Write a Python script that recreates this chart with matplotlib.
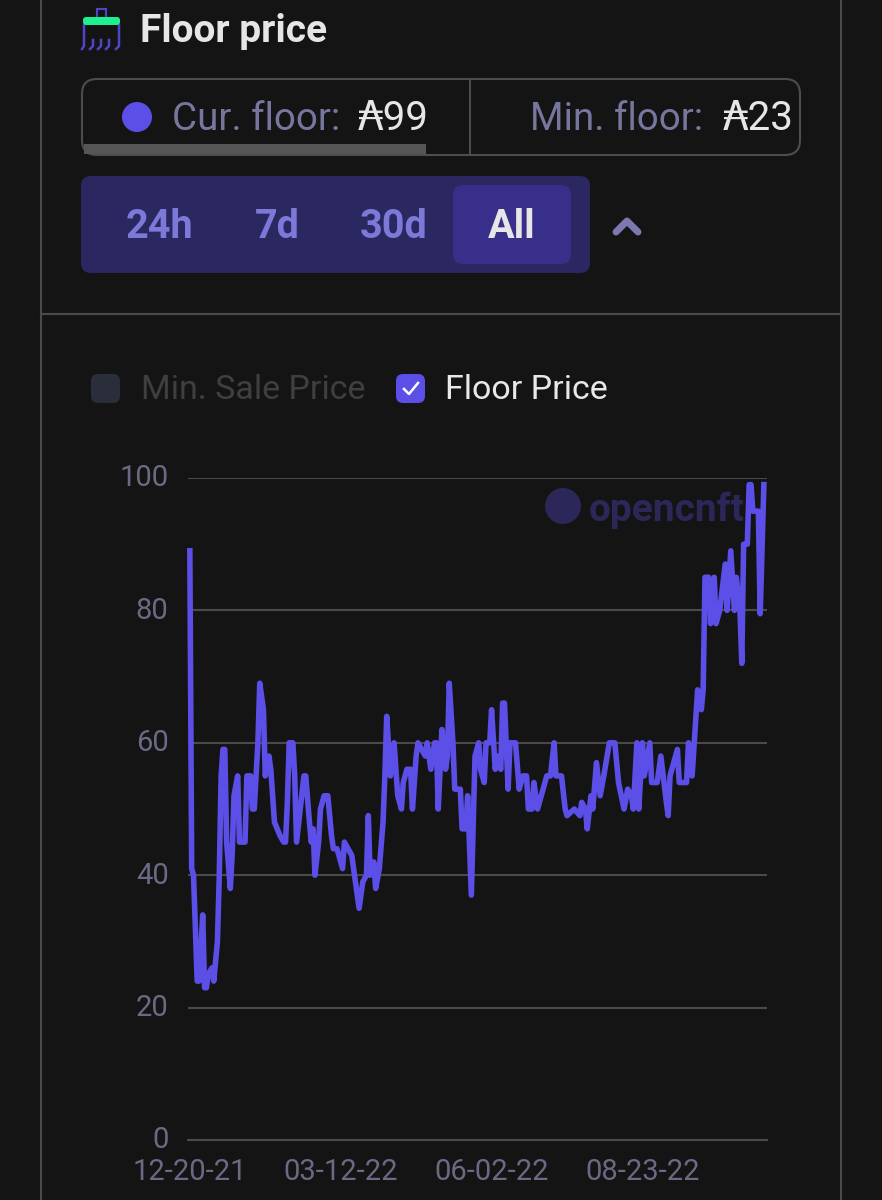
import matplotlib
matplotlib.use("Agg")
import matplotlib.pyplot as plt
from matplotlib.patches import Circle, FancyBboxPatch, Rectangle
from matplotlib.transforms import ScaledTranslation

# Days since 12-20-21 and floor price
days = [0, 1, 2, 4, 5, 7, 8, 9, 10, 12, 13, 15, 16, 17, 18, 19, 20, 22, 23, 24, 26, 27, 28, 30, 31, 33, 34,
        35, 37, 38, 39, 40, 41, 43, 44, 46, 49, 51, 52, 53, 54, 56, 57, 58, 60, 62, 63, 65, 66, 67, 68, 70,
        71, 73, 75, 77, 78, 80, 83, 84, 86, 88, 90, 92, 94, 96, 97, 98, 100, 101, 103, 105, 106, 107, 109,
        111, 113, 115, 116, 118, 120, 121, 123, 124, 126, 128, 129, 131, 133, 134, 135, 137, 139, 140, 141,
        143, 144, 147, 148, 150, 151, 153, 155, 157, 158, 160, 161, 163, 164, 166, 167, 169, 170, 171, 173,
        174, 177, 179, 181, 183, 184, 186, 187, 189, 191, 194, 196, 198, 199, 202, 204, 205, 209, 212, 213,
        215, 216, 218, 219, 221, 223, 225, 228, 231, 233, 236, 238, 240, 241, 243, 244, 246, 247, 250, 251,
        254, 256, 259, 260, 261, 265, 266, 270, 271, 273, 276, 278, 279, 280, 282, 283, 285, 286, 288, 291,
        292, 294, 296, 297, 299, 300, 301, 303, 304, 305, 306, 309, 310, 312]
floor_price = [89, 41, 40, 24, 24, 34, 23, 23, 25, 26, 24, 30, 40, 55, 59, 59, 45, 38, 43, 52, 55, 45, 45, 45,
               55, 55, 50, 50, 60, 69, 67, 65, 55, 58, 56, 48, 46, 45, 45, 51, 60, 60, 55, 45, 50, 55, 55, 48,
               45, 47, 40, 45, 50, 52, 52, 46, 44, 44, 41, 45, 44, 43, 39, 35, 39, 40, 49, 40, 42, 38, 41, 48,
               55, 64, 55, 60, 52, 50, 54, 56, 56, 50, 58, 60, 59, 58, 60, 56, 60, 60, 50, 62, 56, 58, 69, 60,
               53, 53, 47, 47, 52, 37, 58, 60, 56, 54, 60, 60, 65, 56, 58, 56, 66, 66, 53, 60, 60, 53, 55, 55,
               50, 50, 54, 50, 52, 55, 55, 60, 55, 55, 50, 49, 50, 49, 51, 50, 47, 52, 50, 57, 52, 55, 60, 60,
               54, 50, 53, 52, 50, 60, 50, 60, 55, 60, 54, 54, 58, 51, 49, 55, 59, 54, 54, 60, 55, 68, 65, 68,
               85, 85, 78, 85, 78, 80, 87, 80, 89, 80, 85, 80, 72, 90, 90, 99, 99, 95, 95, 79.5, 99]
y_ticks = [0, 20, 40, 60, 80, 100]
x_ticks = [0, 82, 164, 246]
x_labels = ["12-20-21", "03-12-22", "06-02-22", "08-23-22"]
ranges = ["24h", "7d", "30d", "All"]

BG = "#141414"
PURPLE = "#5b4fe8"
MUTED = "#77769e"
TICK = "#6b6a85"
FONT = ["Roboto", "DejaVu Sans"]
plt.rcParams["font.family"] = FONT

fig = plt.figure(figsize=(8.82, 12), dpi=100, facecolor=BG)

# Card furniture is drawn in pixel coordinates
ui = fig.add_axes([0, 0, 1, 1])
ui.set_xlim(0, 882)
ui.set_ylim(1200, 0)
ui.axis("off")


def box(x0, y0, x1, y1, radius, face, edge="none", lw=0, z=1):
    ui.add_patch(FancyBboxPatch((x0 + radius, y0 + radius), x1 - x0 - 2 * radius, y1 - y0 - 2 * radius,
                                boxstyle=f"round,pad={radius},rounding_size={radius}",
                                facecolor=face, edgecolor=edge, linewidth=lw, zorder=z))


# panel lines
ui.plot([41, 41], [0, 1200], color="#4a4a4a", lw=1.5)
ui.plot([841, 841], [0, 1200], color="#4a4a4a", lw=1.5)
ui.plot([41, 841], [314, 314], color="#4a4a4a", lw=1.5)

# brush icon
ui.add_patch(Rectangle((97, 9), 9, 9, facecolor="none", edgecolor="#4f45c8", lw=1.5))
box(83, 17, 120, 25, 3, "#1ef08f", z=3)
ui.plot([84, 84, 82], [25, 46, 49], color="#4f45c8", lw=1.8)
ui.plot([119, 119, 116], [25, 46, 49], color="#4f45c8", lw=1.8)
for bx in [93, 101, 109]:
    ui.plot([bx, bx, bx - 3], [40, 46, 49], color="#4f45c8", lw=1.8)
ui.text(140, 31, "Floor price", color="#e6e6e6", fontsize=28, fontweight="bold", va="center", ha="left")

# stats box
box(82, 79, 800, 155, 15, "none", "#4d4d4d", 1.5)
ui.plot([470, 470], [79, 155], color="#4d4d4d", lw=1.5)
ui.add_patch(Rectangle((84, 144), 342, 10, facecolor="#555555", edgecolor="none", zorder=2))
ui.add_patch(Circle((137, 117), 15, facecolor=PURPLE, edgecolor="none"))
ui.text(172, 119, "Cur. floor:", color=MUTED, fontsize=27.7, va="center", ha="left")
ui.text(358, 119, "\u20b399", color="#e6e6e6", fontsize=29, va="center", ha="left")
ui.text(530, 119, "Min. floor:", color=MUTED, fontsize=27.7, va="center", ha="left")
ui.text(723, 119, "\u20b323", color="#e6e6e6", fontsize=29, va="center", ha="left")

# range buttons
box(81, 176, 590, 273, 10, "#2b2760")
box(453, 185, 571, 264, 10, "#382f8a", z=2)
for label, cx in zip(ranges, [159, 277, 394, 512]):
    ui.text(cx, 227, label, color="#e6e6e6" if label == "All" else "#7c79d8", fontsize=28.5,
            fontweight="bold", va="center", ha="center", zorder=3)
ui.plot([616, 627, 638], [232, 221, 232], color="#7c79b0", lw=5, solid_capstyle="round", solid_joinstyle="round")

# legend
box(91, 374, 120, 403, 7, "#2a2e3a")
ui.text(141, 390, "Min. Sale Price", color="#3f3f3f", fontsize=24.5, va="center", ha="left")
box(396, 374, 425, 403, 7, PURPLE)
ui.plot([404, 409, 418], [389, 394, 383], color="white", lw=1.8)
ui.text(445, 390, "Floor Price", color="#e8e8e8", fontsize=24.5, va="center", ha="left")

# watermark
ui.add_patch(Circle((563, 506), 18, facecolor="#2b2758", edgecolor="none"))
ui.text(589, 510, "opencnft", color="#2b2758", fontsize=28, fontweight="bold", va="center", ha="left")

# The chart itself
ax = fig.add_axes([188 / 882, 1 - 1140 / 1200, (767 - 188) / 882, (1140 - 478) / 1200])
ax.patch.set_alpha(0)
ax.plot(days, floor_price, color=PURPLE, lw=4, solid_joinstyle="round", zorder=3, clip_on=False)
ax.set_xlim(-1, 313.7)
ax.set_ylim(0, 100)
ax.set_yticks(y_ticks)
ax.set_xticks(x_ticks)
ax.set_xticklabels(x_labels)
ax.grid(axis="y", color="#4a4a4a", lw=1.5)
ax.set_axisbelow(True)
ax.tick_params(length=0, labelsize=21, labelcolor=TICK)
ax.tick_params(axis="x", pad=13)
ax.tick_params(axis="y", pad=14)
# y labels sit a little above their grid lines
for lab in ax.get_yticklabels():
    lab.set_transform(lab.get_transform() + ScaledTranslation(0, 2.5 / 100, fig.dpi_scale_trans))
for spine in ax.spines.values():
    spine.set_visible(False)
ax.spines["bottom"].set_visible(True)
ax.spines["bottom"].set_color("#4a4a4a")
ax.spines["bottom"].set_linewidth(1.5)

fig.savefig("out.png", dpi=100, facecolor=BG)
